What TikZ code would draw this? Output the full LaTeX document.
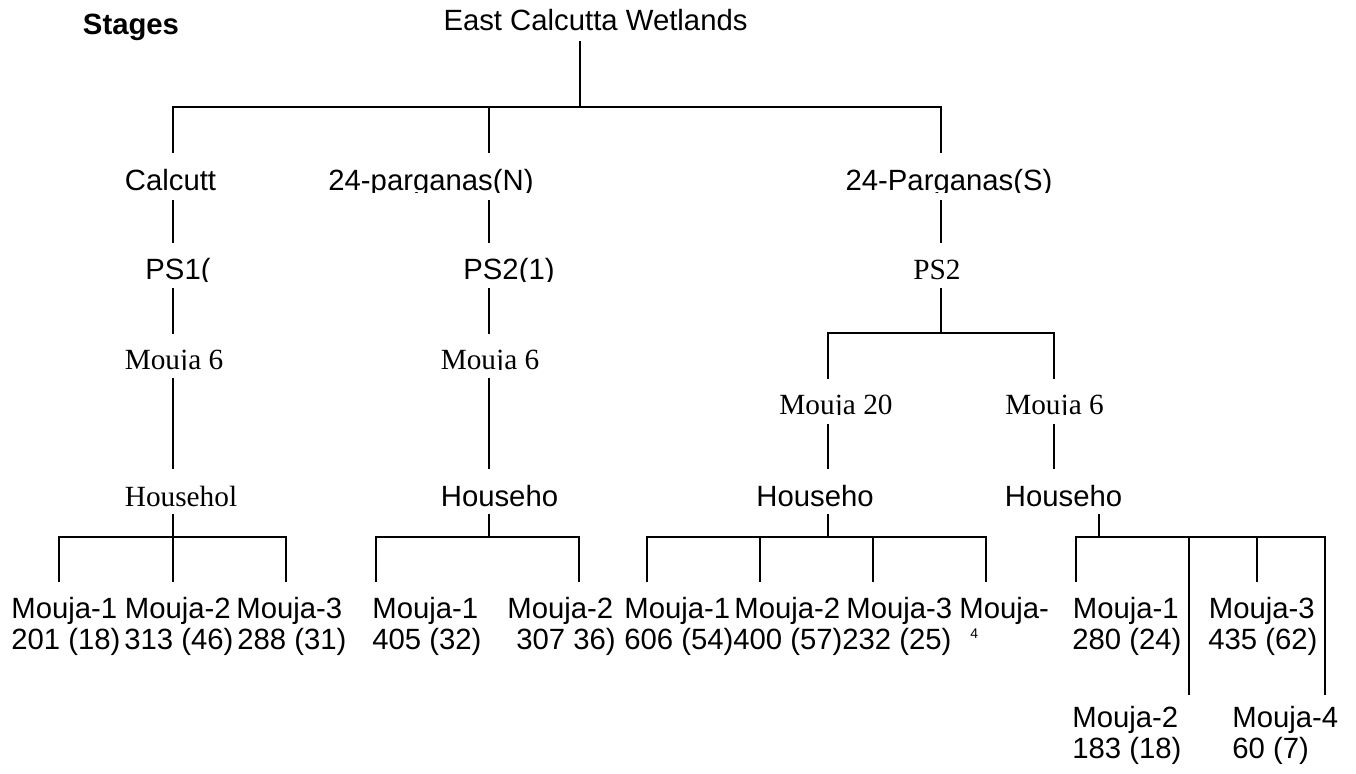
\documentclass[tikz,border=0pt]{standalone}
\usepackage{fontspec}
\setmainfont{Liberation Sans}
\newfontfamily\tms{Liberation Serif}
\begin{document}
\begin{tikzpicture}[x=0.5pt,y=-0.5pt,
  lbl/.style={inner sep=0pt, anchor=base, font=\fontsize{14.65}{17}\selectfont},
  slbl/.style={inner sep=0pt, anchor=base, font=\tms\fontsize{14.65}{17}\selectfont},
  leaf/.style={inner sep=0pt, anchor=base west, font=\fontsize{14.65}{17}\selectfont},
  conn/.style={line width=1pt, line join=miter}]
\path[use as bounding box] (0,0) rectangle (1356,773);

% ---------- text nodes ----------
\node[lbl, font=\bfseries\fontsize{14.65}{17}\selectfont] (stages) at (131,34) {Stages};
\node[lbl] (ecw) at (595.5,30) {East Calcutta Wetlands};

\node[lbl] (cal) at (170.5,190) {Calcutt};
\begin{scope}
  \clip (300,160) rectangle (560,192.5);
  \node[lbl] (n24) at (431,190) {24-parganas(N)};
\end{scope}
\begin{scope}
  \clip (830,160) rectangle (1070,192.5);
  \node[lbl] (s24) at (949,190) {24-Parganas(S)};
\end{scope}

\begin{scope}
  \clip (140,250) rectangle (215,281);
  \node[lbl] (ps1) at (178,279) {PS1(};
\end{scope}
\begin{scope}
  \clip (455,250) rectangle (565,281);
  \node[lbl] (ps2a) at (509,279) {PS2(1)};
\end{scope}
\node[slbl] (ps2b) at (937,279) {PS2};

\begin{scope}
  \clip (115,340) rectangle (235,369.8);
  \node[slbl] (m6a) at (174,369) {Mouja 6};
\end{scope}
\begin{scope}
  \clip (430,340) rectangle (550,369.8);
  \node[slbl] (m6b) at (490,369) {Mouja 6};
\end{scope}
\begin{scope}
  \clip (770,385) rectangle (905,414.8);
  \node[slbl] (m20) at (836,414) {Mouja 20};
\end{scope}
\begin{scope}
  \clip (995,385) rectangle (1115,414.8);
  \node[slbl] (m6c) at (1054.5,414) {Mouja 6};
\end{scope}

\node[slbl] (hh1) at (181,506) {Househol};
\node[lbl] (hh2) at (499.5,506) {Househo};
\node[lbl] (hh3) at (815,506) {Househo};
\node[lbl] (hh4) at (1063.5,506) {Househo};

% leaves, first line / second line
\node[leaf] (a1) at (11,618) {Mouja-1};    \node[leaf] (a1n) at (11,649) {201 (18)};
\node[leaf] (a2) at (124.5,618) {Mouja-2}; \node[leaf] (a2n) at (124,649) {313 (46)};
\node[leaf] (a3) at (236,618) {Mouja-3};   \node[leaf] (a3n) at (237,649) {288 (31)};
\node[leaf] (b1) at (372,618) {Mouja-1};   \node[leaf] (b1n) at (372,649) {405 (32)};
\node[leaf] (b2) at (507,618) {Mouja-2};   \node[leaf] (b2n) at (516,649) {307 36)};
\node[leaf] (c1) at (624,618) {Mouja-1};   \node[leaf] (c1n) at (624,649) {606 (54)};
\node[leaf] (c2) at (734,618) {Mouja-2};   \node[leaf] (c2n) at (733,649) {400 (57)};
\node[leaf] (c3) at (846,618) {Mouja-3};   \node[leaf] (c3n) at (842,649) {232 (25)};
\node[leaf] (c4) at (959,618) {Mouja-};
\node[inner sep=0pt, anchor=base west, font=\fontsize{7}{8}\selectfont] (c4n) at (970,638) {4};
\node[leaf] (d1) at (1072.5,618) {Mouja-1}; \node[leaf] (d1n) at (1072,649) {280 (24)};
\node[leaf] (d3) at (1208.5,618) {Mouja-3}; \node[leaf] (d3n) at (1208,649) {435 (62)};
\node[leaf] (d2) at (1072,727) {Mouja-2};   \node[leaf] (d2n) at (1072,758) {183 (18)};
\node[leaf] (d4) at (1232,727) {Mouja-4};   \node[leaf] (d4n) at (1232,758) {60 (7)};

% ---------- connector coordinates ----------
\coordinate (e0) at (580,41);   \coordinate (e1) at (580,107);
\coordinate (k1b) at (172.8,107); \coordinate (k1) at (172.8,153);
\coordinate (k2b) at (489,107);   \coordinate (k2) at (489,153);
\coordinate (k3b) at (940.6,107); \coordinate (k3) at (940.6,153);

\coordinate (v11a) at (172.8,200); \coordinate (v11b) at (172.8,243);
\coordinate (v12a) at (172.8,288); \coordinate (v12b) at (172.8,334);
\coordinate (v13a) at (172.8,378); \coordinate (v13b) at (172.8,469);
\coordinate (h1t) at (172.8,514);  \coordinate (h1m) at (172.8,582);
\coordinate (h1l) at (59.4,582);   \coordinate (h1lb) at (59.4,537);
\coordinate (h1rb) at (285.8,537); \coordinate (h1r) at (285.8,582);

\coordinate (v21a) at (489,200); \coordinate (v21b) at (489,243);
\coordinate (v22a) at (489,288); \coordinate (v22b) at (489,334);
\coordinate (v23a) at (489,378); \coordinate (v23b) at (489,469);
\coordinate (h2t) at (489,514);  \coordinate (h2j) at (489,537);
\coordinate (h2l) at (375.5,582); \coordinate (h2lb) at (375.5,537);
\coordinate (h2rb) at (579.4,537); \coordinate (h2r) at (579.4,582);

\coordinate (v31a) at (940.6,200); \coordinate (v31b) at (940.6,243);
\coordinate (v32a) at (940.6,288); \coordinate (v32j) at (940.6,333);
\coordinate (sl) at (827.6,379);   \coordinate (slb) at (827.6,333);
\coordinate (srb) at (1053.6,333); \coordinate (sr) at (1053.6,379);
\coordinate (v33a) at (827.6,424); \coordinate (v33b) at (827.6,469);
\coordinate (v34a) at (1053.6,424); \coordinate (v34b) at (1053.6,469);

\coordinate (h3t) at (827.6,514); \coordinate (h3j) at (827.6,537);
\coordinate (h3l) at (647,582);   \coordinate (h3lb) at (647,537);
\coordinate (h3rb) at (985.7,537); \coordinate (h3r) at (985.7,582);
\coordinate (h3m1a) at (759.6,537); \coordinate (h3m1b) at (759.6,582);
\coordinate (h3m2a) at (872.9,537); \coordinate (h3m2b) at (872.9,582);

\coordinate (h4t) at (1099,514);  \coordinate (h4j) at (1099,537);
\coordinate (h4l) at (1076,582);  \coordinate (h4lb) at (1076,537);
\coordinate (h4rb) at (1324.7,537); \coordinate (h4r) at (1324.7,695);
\coordinate (h4m1a) at (1189,537); \coordinate (h4m1b) at (1189,695);
\coordinate (h4m2a) at (1256.7,537); \coordinate (h4m2b) at (1256.7,582);

% ---------- connectors ----------
\draw[conn] (e0) -- (e1);
\draw[conn] (k1) -- (k1b) -- (k3b) -- (k3);
\draw[conn] (k2b) -- (k2);

\draw[conn] (v11a) -- (v11b);
\draw[conn] (v12a) -- (v12b);
\draw[conn] (v13a) -- (v13b);
\draw[conn] (h1t) -- (h1m);
\draw[conn] (h1l) -- (h1lb) -- (h1rb) -- (h1r);

\draw[conn] (v21a) -- (v21b);
\draw[conn] (v22a) -- (v22b);
\draw[conn] (v23a) -- (v23b);
\draw[conn] (h2t) -- (h2j);
\draw[conn] (h2l) -- (h2lb) -- (h2rb) -- (h2r);

\draw[conn] (v31a) -- (v31b);
\draw[conn] (v32a) -- (v32j);
\draw[conn] (sl) -- (slb) -- (srb) -- (sr);
\draw[conn] (v33a) -- (v33b);
\draw[conn] (v34a) -- (v34b);

\draw[conn] (h3t) -- (h3j);
\draw[conn] (h3l) -- (h3lb) -- (h3rb) -- (h3r);
\draw[conn] (h3m1a) -- (h3m1b);
\draw[conn] (h3m2a) -- (h3m2b);

\draw[conn] (h4t) -- (h4j);
\draw[conn] (h4l) -- (h4lb) -- (h4rb) -- (h4r);
\draw[conn] (h4m1a) -- (h4m1b);
\draw[conn] (h4m2a) -- (h4m2b);
\end{tikzpicture}
\end{document}
